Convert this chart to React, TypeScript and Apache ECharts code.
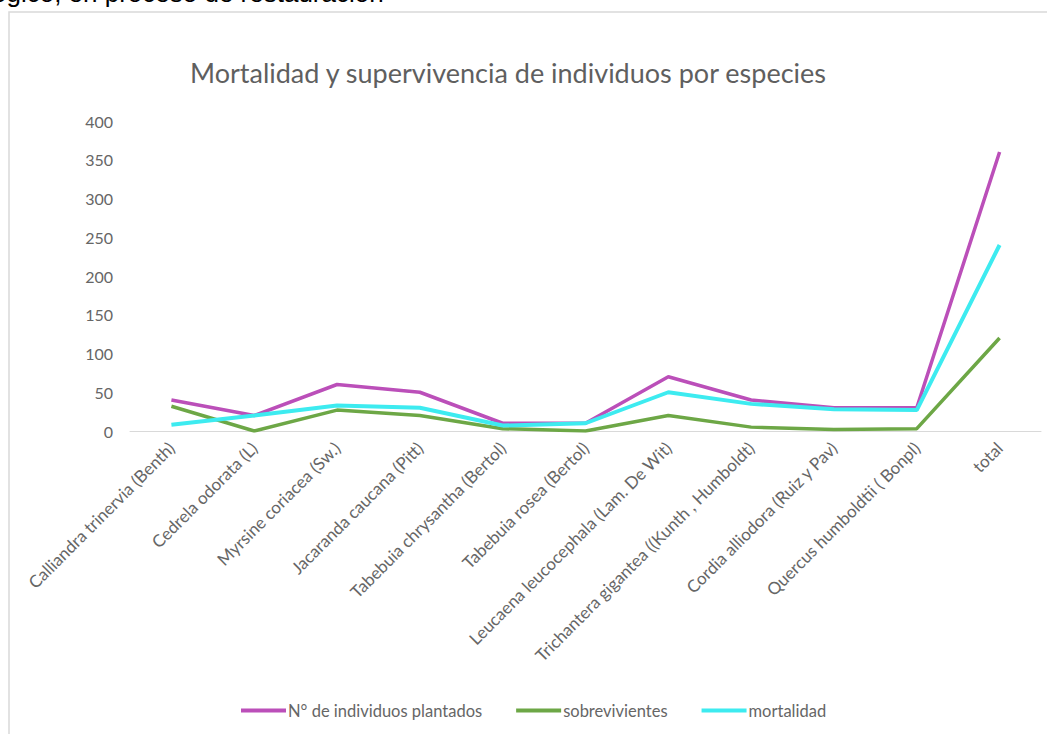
import React, { useEffect, useRef } from "react";
import * as echarts from "echarts";

const categories = [
  "Calliandra trinervia (Benth)",
  "Cedrela odorata (L)",
  "Myrsine coriacea (Sw.)",
  "Jacaranda caucana (Pitt)",
  "Tabebuia chrysantha (Bertol)",
  "Tabebuia rosea (Bertol)",
  "Leucaena leucocephala (Lam. De Wit)",
  "Trichantera gigantea ((Kunth , Humboldt)",
  "Cordia alliodora (Ruiz y Pav)",
  "Quercus humboldtii ( Bonpl)",
  "total",
];
const plantados = [40, 20, 60, 50, 10, 10, 70, 40, 30, 30, 360];
const sobrevivientes = [32, 0, 27, 20, 3, 0, 20, 5, 2, 3, 120];
const mortalidad = [8, 20, 33, 30, 7, 10, 50, 35, 28, 27, 240];
const yTicks = [0, 50, 100, 150, 200, 250, 300, 350, 400];

const FONT = "Lato, 'Open Sans', sans-serif";
const TXT = "#666666";

export default function App() {
  const ref = useRef<HTMLDivElement>(null);
  useEffect(() => {
    if (!ref.current) return;
    const chart = echarts.init(ref.current, null, { renderer: "svg" });
    chart.setOption({
      animation: false,
      backgroundColor: "#ffffff",
      title: {
        text: "Mortalidad y supervivencia de individuos por especies",
        left: 503,
        textAlign: "center",
        top: 54,
        textStyle: { color: "#5f5f5f", fontSize: 27, fontWeight: "normal", fontFamily: FONT },
      },
      graphic: [
        {
          type: "rect",
          shape: { x: 9, y: 12, width: 1100, height: 800 },
          style: { fill: "none", stroke: "#d9d9d9", lineWidth: 1.5 },
          silent: true,
        },
        {
          type: "text",
          x: -8,
          y: 6,
          style: {
            text: "ógico, en proceso de restauración",
            fill: "#000000",
            font: "26px 'Liberation Sans', Arial, sans-serif",
            textVerticalAlign: "bottom",
          },
          silent: true,
        },
      ],
      legend: {
        bottom: 10,
        left: 236,
        itemWidth: 45,
        itemHeight: 4,
        itemGap: 34,
        icon: "rect",
        textStyle: { color: TXT, fontSize: 16.5, fontFamily: FONT, padding: [0, 0, 0, -3] },
        data: ["N° de individuos plantados", "sobrevivientes", "mortalidad"],
      },
      grid: { left: 130, right: 6, top: 121, bottom: 303, containLabel: false },
      xAxis: {
        type: "category",
        data: categories,
        boundaryGap: true,
        axisLine: { lineStyle: { color: "#d9d9d9", width: 1 } },
        axisTick: { show: false },
        axisLabel: {
          rotate: 45,
          interval: 0,
          color: TXT,
          fontSize: 17,
          fontFamily: FONT,
          margin: 14,
        },
      },
      yAxis: {
        type: "value",
        min: 0,
        max: 400,
        interval: 50,
        axisLine: { show: false },
        axisTick: { show: false },
        splitLine: { show: false },
        axisLabel: {
          color: TXT,
          fontSize: 16,
          fontFamily: FONT,
          margin: 17,
          formatter: (v: number) => (yTicks.includes(v) ? String(v) : ""),
        },
      },
      series: [
        {
          name: "N° de individuos plantados",
          type: "line",
          data: plantados,
          symbol: "none",
          lineStyle: { width: 3.5, color: "#BB4FB9" },
          itemStyle: { color: "#BB4FB9" },
        },
        {
          name: "sobrevivientes",
          type: "line",
          data: sobrevivientes,
          symbol: "none",
          lineStyle: { width: 3.5, color: "#6DA746" },
          itemStyle: { color: "#6DA746" },
        },
        {
          name: "mortalidad",
          type: "line",
          data: mortalidad,
          symbol: "none",
          lineStyle: { width: 4, color: "#3DEBF0" },
          itemStyle: { color: "#3DEBF0" },
        },
      ],
    });
    return () => chart.dispose();
  }, []);
  return <div ref={ref} style={{ width: 1047, height: 734, position: "absolute", left: 0, top: 0 }} />;
}
